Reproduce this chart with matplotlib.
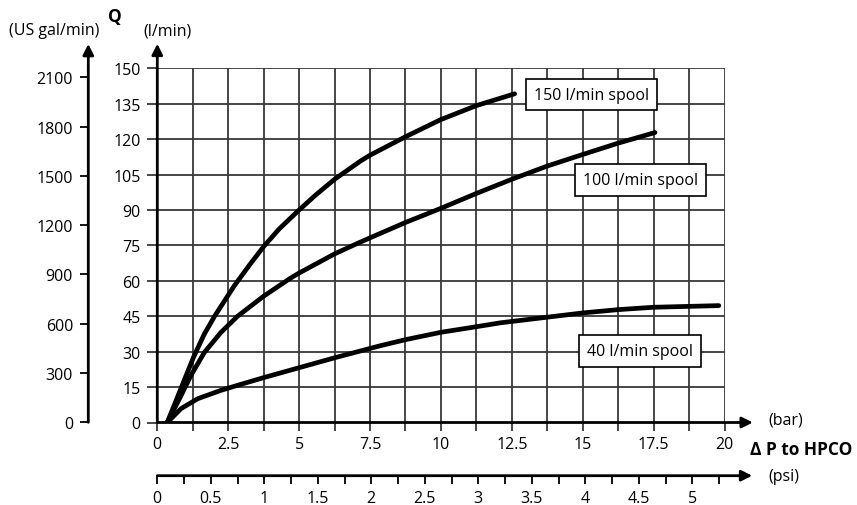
import matplotlib.pyplot as plt
import numpy as np

plt.rcParams['font.family'] = ['Open Sans', 'DejaVu Sans']

# readings: pressure drop (bar) vs flow Q (l/min)
dp_150 = [0.35, 0.72, 1.02, 1.29, 1.66, 2.02, 2.45, 2.72, 3.27, 3.75, 4.3, 5.0,
          5.6, 6.25, 7.15, 7.5, 8.75, 10.0, 11.25, 12.6]
q_150 = [0, 11, 20, 28, 37.5, 45, 53, 58, 67, 74.5, 82, 90,
         96.5, 103, 110.6, 113.2, 121, 128.3, 134.2, 139.2]

dp_100 = [0.35, 0.78, 1.19, 1.66, 2.24, 2.83, 3.75, 4.68, 5.0, 6.25, 7.03, 7.5,
          8.77, 10.0, 11.25, 12.5, 13.75, 15.0, 16.25, 17.55]
q_100 = [0, 10, 20, 29.7, 38.1, 45, 53.5, 61, 63.3, 71.4, 75.7, 78.2,
         84.8, 90.7, 97, 103, 108.6, 113.5, 118.3, 122.8]

dp_40 = [0.35, 0.84, 1.43, 2.24, 2.9, 3.75, 5.0, 6.25, 7.86, 8.76, 10.0, 11.27,
         12.09, 13.75, 15.0, 16.25, 17.5, 19.8]
q_40 = [0, 5.9, 10.1, 13.6, 16.0, 19.0, 23.2, 27.4, 32.5, 35.1, 38.2, 40.6,
        42.2, 44.6, 46.4, 47.8, 48.8, 49.5]

bar_ticks = np.arange(0, 20.01, 1.25)
bar_labels = ['0', '2.5', '5', '7.5', '10', '12.5', '15', '17.5', '20']
q_ticks = np.arange(0, 151, 15)
gal_ticks = np.arange(0, 2101, 300)
psi_major = np.arange(0, 5.01, 0.5)
psi_labels = ['0', '0.5', '1', '1.5', '2', '2.5', '3', '3.5', '4', '4.5', '5']
psi_minor = np.arange(0.25, 5.26, 0.5)

W, H = 857, 506
fig = plt.figure(figsize=(W / 100, H / 100), dpi=100)


def fx(px):
    return px / W


def fy(py):
    return (H - py) / H


grid_col = '#383838'
fs = 11.5

# main chart
ax = fig.add_axes([fx(157.3), fy(423.5), fx(724.5) - fx(157.3), fy(69.3) - fy(423.5)])
ax.set_xlim(0, 20)
ax.set_ylim(0, 150)
for s in ax.spines.values():
    s.set_visible(False)
ax.set_xticks(bar_ticks)
ax.set_xticklabels([bar_labels[i // 2] if i % 2 == 0 else '' for i in range(len(bar_ticks))])
ax.set_yticks(q_ticks)
ax.set_yticklabels([str(v) for v in q_ticks])
ax.tick_params(axis='x', length=6, width=1.3, color=grid_col, pad=4, labelsize=fs)
ax.tick_params(axis='y', length=7, width=1.3, color=grid_col, pad=5, labelsize=fs)
ax.grid(True, color=grid_col, lw=1.3)
ax.set_axisbelow(True)

for dp, q in [(dp_150, q_150), (dp_100, q_100), (dp_40, q_40)]:
    ax.plot(dp, q, color='black', lw=3.4, solid_capstyle='round', solid_joinstyle='round', zorder=3)

arrow = dict(arrowstyle='-|>', color='black', lw=2, mutation_scale=16, shrinkA=0, shrinkB=0)
ax.annotate('', xy=(0, 160.4), xytext=(0, 0), arrowprops=arrow, annotation_clip=False)
ax.annotate('', xy=(21.0, 0), xytext=(0, 0), arrowprops=arrow, annotation_clip=False)

box = dict(boxstyle='square,pad=0.5', fc='white', ec='black', lw=1.2)
ax.text(15.32, 138.9, '150 l/min spool', ha='center', va='center', fontsize=fs, bbox=box, zorder=4)
ax.text(17.03, 102.7, '100 l/min spool', ha='center', va='center', fontsize=fs, bbox=box, zorder=4)
ax.text(17.03, 30.1, '40 l/min spool', ha='center', va='center', fontsize=fs, bbox=box, zorder=4)

# US gal/min axis
axg = fig.add_axes([fx(88.3), fy(423.3), 0.0001, fy(78.3) - fy(423.3)])
axg.set_ylim(0, 2100)
axg.set_xticks([])
for s in axg.spines.values():
    s.set_visible(False)
axg.set_yticks(gal_ticks)
axg.set_yticklabels([str(v) for v in gal_ticks])
axg.tick_params(axis='y', length=6, width=1.3, pad=5, labelsize=fs)
axg.annotate('', xy=(0, 2303), xytext=(0, 0), arrowprops=arrow, annotation_clip=False)

# psi axis
axp = fig.add_axes([fx(157.3), fy(476.7), fx(724.5) - fx(157.3), 0.0001])
axp.set_xlim(0, 567.2 / 107)
axp.set_ylim(0, 1)
axp.set_yticks([])
for s in axp.spines.values():
    s.set_visible(False)
axp.set_xticks(psi_major)
axp.set_xticklabels(psi_labels)
axp.set_xticks(psi_minor, minor=True)
axp.tick_params(axis='x', which='both', length=6, width=1.3, pad=4, labelsize=fs)
axp.annotate('', xy=(5.56, 0), xytext=(0, 0), arrowprops=arrow, annotation_clip=False)

# axis titles
fig.text(fx(54), fy(31), '(US gal/min)', ha='center', va='center', fontsize=fs)
fig.text(fx(115), fy(17), 'Q', ha='center', va='center', fontsize=12.5, fontweight='bold')
fig.text(fx(167), fy(31), '(l/min)', ha='center', va='center', fontsize=fs)
fig.text(fx(768), fy(421), '(bar)', ha='left', va='center', fontsize=fs)
fig.text(fx(750), fy(450), 'Δ P to HPCO', ha='left', va='center', fontsize=12.5, fontweight='bold')
fig.text(fx(768), fy(477), '(psi)', ha='left', va='center', fontsize=fs)

fig.savefig('out.png', dpi=100)
